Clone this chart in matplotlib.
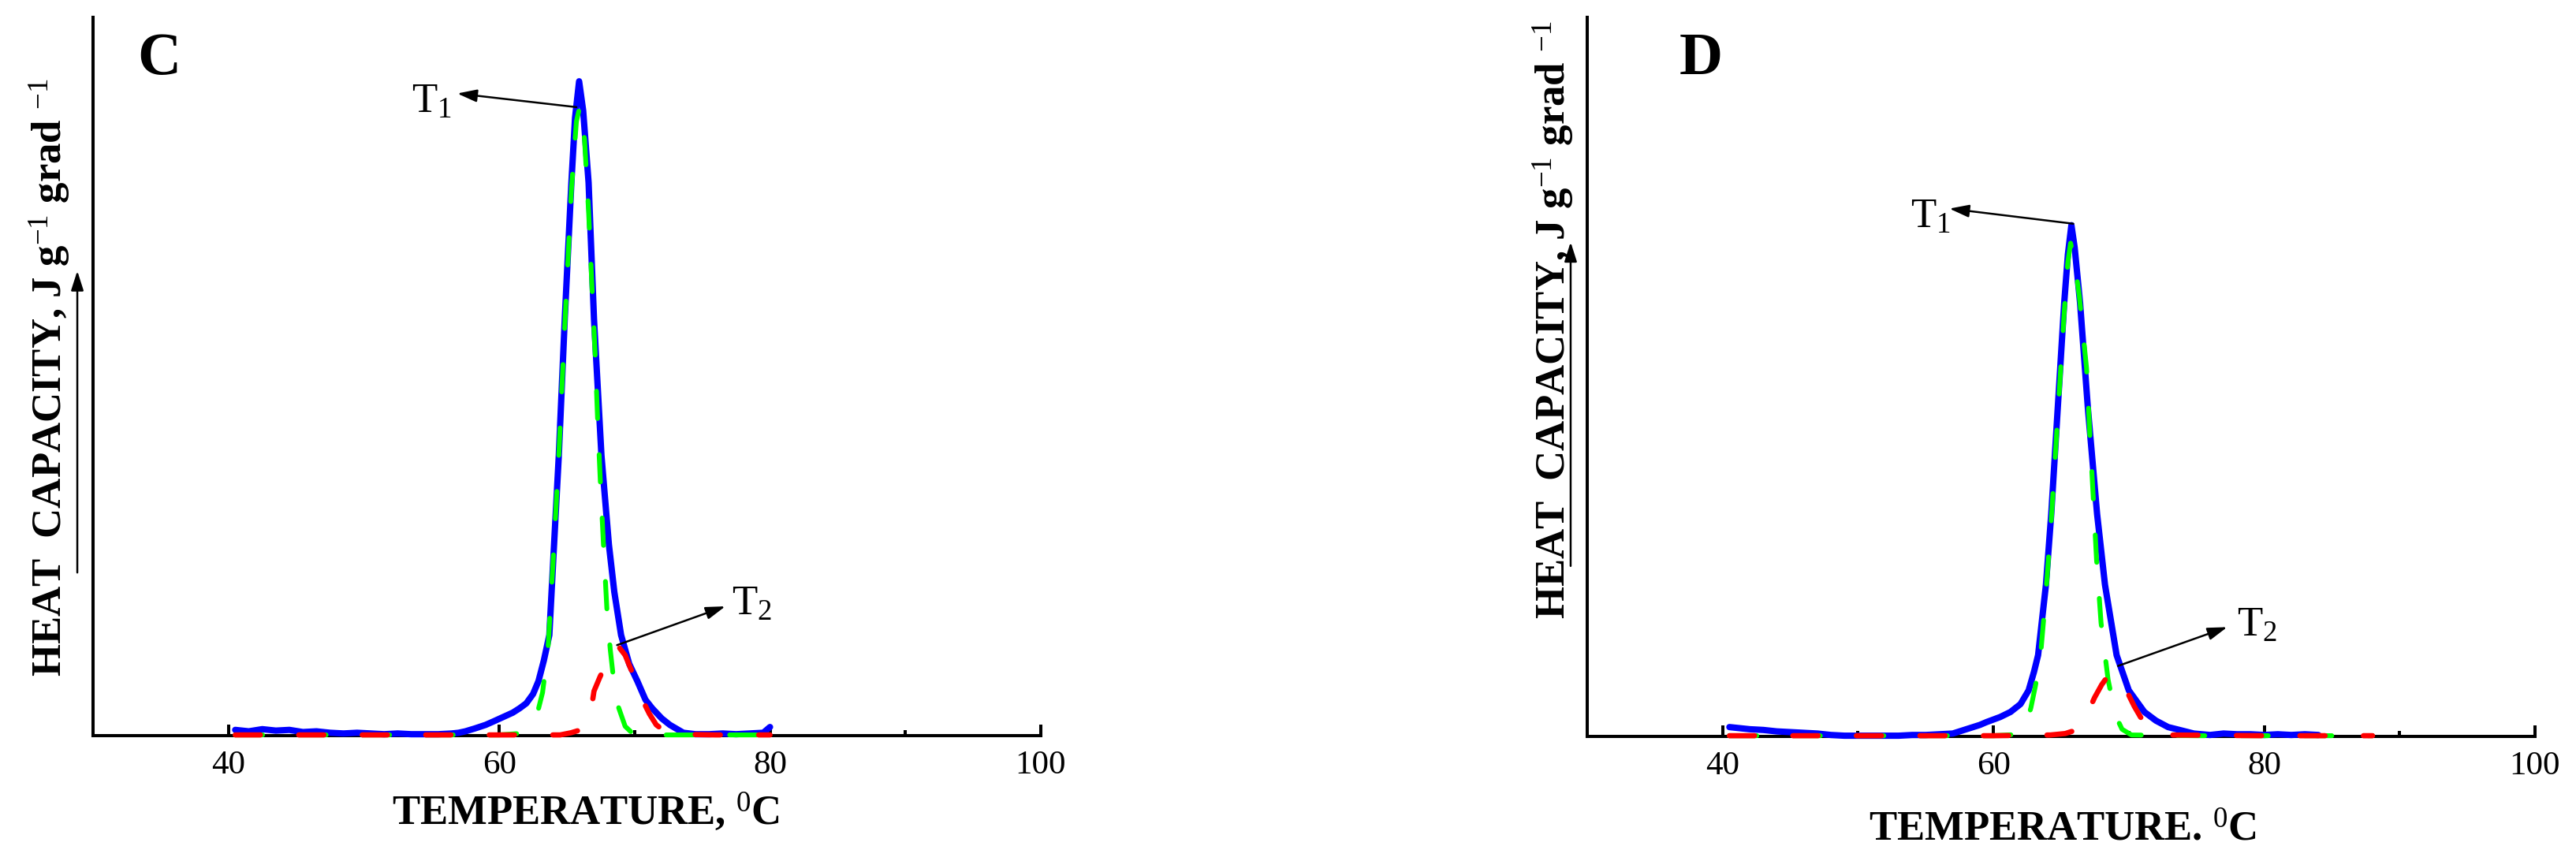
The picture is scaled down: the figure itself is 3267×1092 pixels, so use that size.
import matplotlib
matplotlib.use('Agg')
import matplotlib.pyplot as plt

plt.rcParams['font.family'] = ['Liberation Serif', 'DejaVu Serif']
plt.rcParams['mathtext.fontset'] = 'custom'
plt.rcParams['mathtext.rm'] = 'Liberation Serif'
plt.rcParams['mathtext.it'] = 'Liberation Serif:italic'
plt.rcParams['mathtext.bf'] = 'Liberation Serif:bold'
plt.rcParams['lines.scale_dashes'] = False

# ---- panel C ----
c_temp_total = [40.5, 41.5, 42.5, 43.5, 44.5, 45.5, 46.5, 47.5, 48.5, 49.5, 50.5, 51.5,
                52.5, 53.5, 54.5, 55.5, 56.5, 57.0, 57.5, 58.2, 59.0, 59.6, 60.3, 61.0,
                61.5, 62.0, 62.5, 62.9, 63.3, 63.7, 64.05, 64.4, 64.84, 65.33, 65.6, 65.9,
                66.2, 66.6, 67.0, 67.55, 68.1, 68.5, 69.0, 69.6, 70.2, 70.8, 71.3, 72.0,
                72.6, 73.6, 74.5, 75.5, 76.5, 77.5, 78.5, 79.5, 80.0]
c_total = [0.008, 0.006, 0.009, 0.007, 0.008, 0.005, 0.006, 0.004, 0.003, 0.004, 0.003, 0.002,
           0.003, 0.002, 0.002, 0.002, 0.003, 0.004, 0.006, 0.010, 0.015, 0.020, 0.026, 0.032,
           0.038, 0.045, 0.058, 0.076, 0.105, 0.14, 0.266, 0.39, 0.58, 0.77, 0.86, 0.911,
           0.87, 0.77, 0.58, 0.39, 0.266, 0.20, 0.14, 0.10, 0.076, 0.05, 0.038, 0.024,
           0.015, 0.004, 0.002, 0.002, 0.003, 0.002, 0.003, 0.004, 0.012]

c_temp_t1 = [40.5, 50.0, 60.0, 61.5, 62.3, 62.8, 63.2, 63.6, 64.0, 64.4, 64.84, 65.33, 65.7,
             65.95, 66.3, 66.6, 66.85, 67.08, 67.27, 67.47, 67.7, 67.95, 68.2, 68.4, 68.8,
             69.3, 69.8, 70.5, 75.0, 80.0]
c_t1 = [0.001, 0.001, 0.001, 0.003, 0.012, 0.03, 0.06, 0.12, 0.25, 0.39, 0.57, 0.76, 0.855,
        0.876, 0.83, 0.73, 0.625, 0.533, 0.438, 0.353, 0.266, 0.177, 0.12, 0.086, 0.04,
        0.013, 0.004, 0.001, 0.001, 0.001]

c_temp_t2 = [40.5, 50.0, 60.0, 64.5, 65.3, 66.0, 66.4, 66.7, 67.0, 67.4, 67.76, 68.3, 68.73,
             69.3, 70.0, 70.57, 71.1, 71.6, 72.3, 73.0, 76.0, 80.0]
c_t2 = [0.001, 0.001, 0.001, 0.001, 0.004, 0.008, 0.013, 0.025, 0.062, 0.08, 0.095, 0.118, 0.126,
        0.112, 0.08, 0.05, 0.03, 0.015, 0.005, 0.002, 0.001, 0.001]

# ---- panel D ----
d_temp_total = [40.5, 41.0, 42.0, 43.0, 44.0, 45.0, 46.0, 47.0, 48.0, 49.0, 50.0, 51.0, 52.0,
                53.0, 54.0, 55.0, 56.0, 57.0, 58.0, 59.0, 59.5, 60.5, 61.26, 62.0, 62.6, 63.0,
                63.3, 63.88, 64.27, 64.75, 65.23, 65.5, 65.76, 66.0, 66.4, 66.98, 67.66, 68.24,
                69.1, 70.0, 71.15, 72.0, 72.9, 74.8, 76.0, 77.0, 78.0, 79.0, 80.0, 81.0, 82.0,
                83.0, 84.0]
d_total = [0.013, 0.012, 0.010, 0.009, 0.007, 0.006, 0.005, 0.004, 0.002, 0.001, 0.001, 0.001,
           0.001, 0.001, 0.002, 0.002, 0.003, 0.004, 0.010, 0.016, 0.020, 0.027, 0.034, 0.045,
           0.064, 0.09, 0.113, 0.211, 0.309, 0.456, 0.603, 0.67, 0.711, 0.68, 0.603, 0.456,
           0.309, 0.211, 0.113, 0.064, 0.034, 0.022, 0.013, 0.004, 0.002, 0.004, 0.003, 0.003,
           0.002, 0.003, 0.002, 0.003, 0.002]

d_temp_t1 = [40.5, 50.0, 60.0, 62.0, 62.4, 62.77, 63.1, 63.47, 63.88, 64.27, 64.75, 65.23, 65.5,
             65.7, 66.0, 66.34, 66.88, 67.12, 67.37, 67.62, 67.95, 68.47, 69.0, 69.5, 70.2,
             75.0, 80.0, 88.0]
d_t1 = [0.001, 0.001, 0.001, 0.003, 0.015, 0.04, 0.07, 0.11, 0.2, 0.3, 0.445, 0.59, 0.66,
        0.686, 0.66, 0.613, 0.512, 0.42, 0.334, 0.245, 0.158, 0.079, 0.03, 0.01, 0.002,
        0.001, 0.001, 0.001]

d_temp_t2 = [40.5, 50.0, 60.0, 64.2, 65.3, 66.3, 66.9, 67.47, 68.0, 68.53, 68.9, 69.4, 69.9,
             70.4, 70.86, 71.5, 72.2, 73.0, 80.0, 88.0]
d_t2 = [0.001, 0.001, 0.001, 0.002, 0.004, 0.01, 0.03, 0.054, 0.072, 0.086, 0.088, 0.076, 0.061,
        0.042, 0.027, 0.013, 0.005, 0.002, 0.001, 0.001]

x_ticks = [40, 60, 80, 100]
x_minor = [50, 70, 90]

ARROW = dict(arrowstyle='-|>,head_length=0.5,head_width=0.16', color='black', lw=1.8,
             mutation_scale=30, shrinkA=0, shrinkB=0)


def draw_panel(ax, temp_total, total, temp_t1, t1, temp_t2, t2):
    ax.plot(temp_total, total, color='#0000ff', lw=5.8, solid_capstyle='round',
            solid_joinstyle='round', zorder=3, clip_on=False)
    ax.plot(temp_t1, t1, color='#00ff00', lw=4.4, dashes=(25, 33), dash_capstyle='round',
            zorder=4, clip_on=False)
    ax.plot(temp_t2, t2, color='#ff0000', lw=4.8, dashes=(23, 35), dash_capstyle='round',
            zorder=5, clip_on=False)

    ax.set_xlim(30, 100)
    ax.set_ylim(0, 1)
    ax.set_xticks(x_ticks)
    ax.set_xticks(x_minor, minor=True)
    ax.set_yticks([])
    ax.tick_params(axis='x', which='major', direction='in', length=10, width=2.9,
                   labelsize=31, pad=13)
    ax.tick_params(axis='x', which='minor', direction='in', length=5, width=2.9)
    for side in ['top', 'right']:
        ax.spines[side].set_visible(False)
    for side in ['left', 'bottom']:
        ax.spines[side].set_linewidth(2.9)


fig = plt.figure(figsize=(32.67, 10.92), dpi=100)
ax_c = fig.add_axes([0.03612, 0.14560, 0.36792, 0.83425])
ax_d = fig.add_axes([0.61616, 0.14469, 0.36792, 0.83516])

draw_panel(ax_c, c_temp_total, c_total, c_temp_t1, c_t1, c_temp_t2, c_t2)
draw_panel(ax_d, d_temp_total, d_total, d_temp_t1, d_t1, d_temp_t2, d_t2)

ylabel = 'HEAT  CAPACITY, J g$^{-1}$ grad $^{-1}$'

# panel C texts
ax_c.text(34.9, 0.941, 'C', fontsize=55, fontweight='bold', ha='center', va='center')
ax_c.text(-0.0453, 0.499, ylabel, rotation=90, fontsize=38, fontweight='bold',
          ha='center', va='center', transform=ax_c.transAxes)
ax_c.annotate('', xy=(-0.0166, 0.647), xytext=(-0.0166, 0.227), xycoords='axes fraction',
              arrowprops=ARROW, annotation_clip=False)
ax_c.text(0.52, -0.123, 'TEMPERATURE, $^{0}$C', fontsize=38, fontweight='bold',
          ha='center', va='baseline', transform=ax_c.transAxes)
ax_c.annotate('', xy=(56.9, 0.894), xytext=(65.7, 0.875), arrowprops=ARROW)
ax_c.text(53.5, 0.867, 'T$_1$', fontsize=38, ha='left', va='baseline')
ax_c.annotate('', xy=(76.7, 0.18), xytext=(68.7, 0.126), arrowprops=ARROW)
ax_c.text(77.15, 0.168, 'T$_2$', fontsize=38, ha='left', va='baseline')

# panel D texts
ax_d.text(38.4, 0.941, 'D', fontsize=55, fontweight='bold', ha='center', va='center')
ax_d.text(-0.0358, 0.579, ylabel, rotation=90, fontsize=38, fontweight='bold',
          ha='center', va='center', transform=ax_d.transAxes)
ax_d.annotate('', xy=(-0.0175, 0.6875), xytext=(-0.0175, 0.237), xycoords='axes fraction',
              arrowprops=ARROW, annotation_clip=False)
ax_d.text(0.502, -0.145, 'TEMPERATURE. $^{0}$C', fontsize=38, fontweight='bold',
          ha='center', va='baseline', transform=ax_d.transAxes)
ax_d.annotate('', xy=(56.75, 0.734), xytext=(65.9, 0.713), arrowprops=ARROW)
ax_d.text(53.9, 0.707, 'T$_1$', fontsize=38, ha='left', va='baseline')
ax_d.annotate('', xy=(77.27, 0.152), xytext=(69.2, 0.098), arrowprops=ARROW)
ax_d.text(77.96, 0.14, 'T$_2$', fontsize=38, ha='left', va='baseline')

fig.savefig('out.png', dpi=100)
